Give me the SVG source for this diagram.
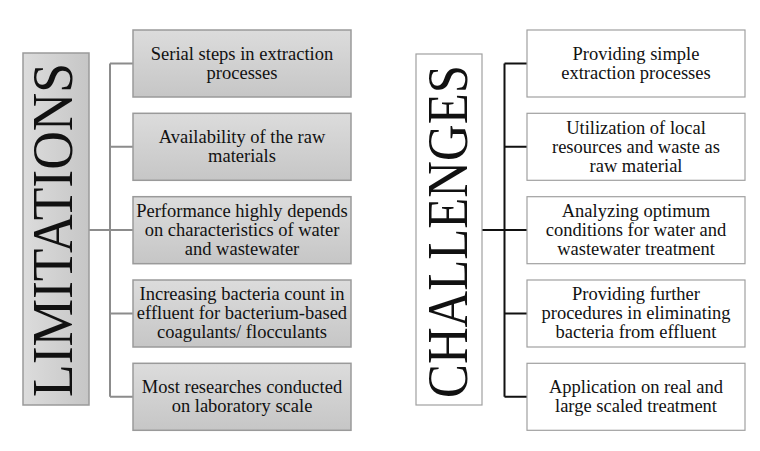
<svg xmlns="http://www.w3.org/2000/svg" width="760" height="451" viewBox="0 0 760 451">
<defs>
<linearGradient id="g" x1="0" y1="0" x2="0" y2="1">
<stop offset="0" stop-color="#dcdcdc"/>
<stop offset="1" stop-color="#c6c6c6"/>
</linearGradient>
<linearGradient id="gh" x1="0" y1="0" x2="1" y2="0">
<stop offset="0" stop-color="#dcdcdc"/>
<stop offset="1" stop-color="#c6c6c6"/>
</linearGradient>
<style>
.gb{fill:url(#g);stroke:#9a9a9a;stroke-width:1.5}
.gv{fill:url(#gh);stroke:#9a9a9a;stroke-width:1.5}
.wb{fill:#fff;stroke:#a0a0a0;stroke-width:1.2}
.t{font-family:"Liberation Serif","Times New Roman",serif;font-size:18.5px;fill:#111;text-anchor:middle}
.big{font-family:"Liberation Serif","Times New Roman",serif;fill:#111;text-anchor:middle}
.cl{fill:none;stroke:#8c8c8c;stroke-width:2}
.cr{fill:none;stroke:#111;stroke-width:2}
</style>
</defs>
<g id="connectors">
<path class="cl" d="M89 230H110M110 63.5V396.8M110 63.5H133M110 146.8H133M110 230H133M110 313.5H133M110 396.8H133"/>
<path class="cr" d="M482 230H504.5M504.5 63.5V396.8M504.5 63.5H527M504.5 146.8H527M504.5 230H527M504.5 313.5H527M504.5 396.8H527"/>
</g>
<g id="limitations">
<rect class="gv" x="23" y="53" width="66" height="352"/>
<text class="big" font-size="56" transform="translate(72,230) rotate(-90)" textLength="334" lengthAdjust="spacingAndGlyphs">LIMITATIONS</text>
</g>
<g id="l1"><rect class="gb" x="133" y="30" width="218" height="67"/>
<text class="t"><tspan x="242" y="59.7">Serial steps in extraction</tspan><tspan x="242" y="78.7">processes</tspan></text></g>
<g id="l2"><rect class="gb" x="133" y="113.3" width="218" height="67"/>
<text class="t"><tspan x="242" y="143">Availability of the raw</tspan><tspan x="242" y="162">materials</tspan></text></g>
<g id="l3"><rect class="gb" x="133" y="196.7" width="218" height="67"/>
<text class="t"><tspan x="242" y="216.9">Performance highly depends</tspan><tspan x="242" y="235.9">on characteristics of water</tspan><tspan x="242" y="254.9">and wastewater</tspan></text></g>
<g id="l4"><rect class="gb" x="133" y="280" width="218" height="67"/>
<text class="t"><tspan x="242" y="300.2">Increasing bacteria count in</tspan><tspan x="242" y="319.2">effluent for bacterium-based</tspan><tspan x="242" y="338.2">coagulants/ flocculants</tspan></text></g>
<g id="l5"><rect class="gb" x="133" y="363.3" width="218" height="67"/>
<text class="t"><tspan x="242" y="393">Most researches conducted</tspan><tspan x="242" y="412">on laboratory scale</tspan></text></g>
<g id="challenges">
<rect class="wb" x="416" y="54" width="66" height="351"/>
<text class="big" font-size="58" transform="translate(467,231.5) rotate(-90)" textLength="333" lengthAdjust="spacingAndGlyphs">CHALLENGES</text>
</g>
<g id="c1"><rect class="wb" x="527" y="30" width="218" height="67"/>
<text class="t"><tspan x="636" y="59.7">Providing simple</tspan><tspan x="636" y="78.7">extraction processes</tspan></text></g>
<g id="c2"><rect class="wb" x="527" y="113.3" width="218" height="67"/>
<text class="t"><tspan x="636" y="133.5">Utilization of local</tspan><tspan x="636" y="152.5">resources and waste as</tspan><tspan x="636" y="171.5">raw material</tspan></text></g>
<g id="c3"><rect class="wb" x="527" y="196.7" width="218" height="67"/>
<text class="t"><tspan x="636" y="216.9">Analyzing optimum</tspan><tspan x="636" y="235.9">conditions for water and</tspan><tspan x="636" y="254.9">wastewater treatment</tspan></text></g>
<g id="c4"><rect class="wb" x="527" y="280" width="218" height="67"/>
<text class="t"><tspan x="636" y="300.2">Providing further</tspan><tspan x="636" y="319.2">procedures in eliminating</tspan><tspan x="636" y="338.2">bacteria from effluent</tspan></text></g>
<g id="c5"><rect class="wb" x="527" y="363.3" width="218" height="67"/>
<text class="t"><tspan x="636" y="393">Application on real and</tspan><tspan x="636" y="412">large scaled treatment</tspan></text></g>
</svg>
